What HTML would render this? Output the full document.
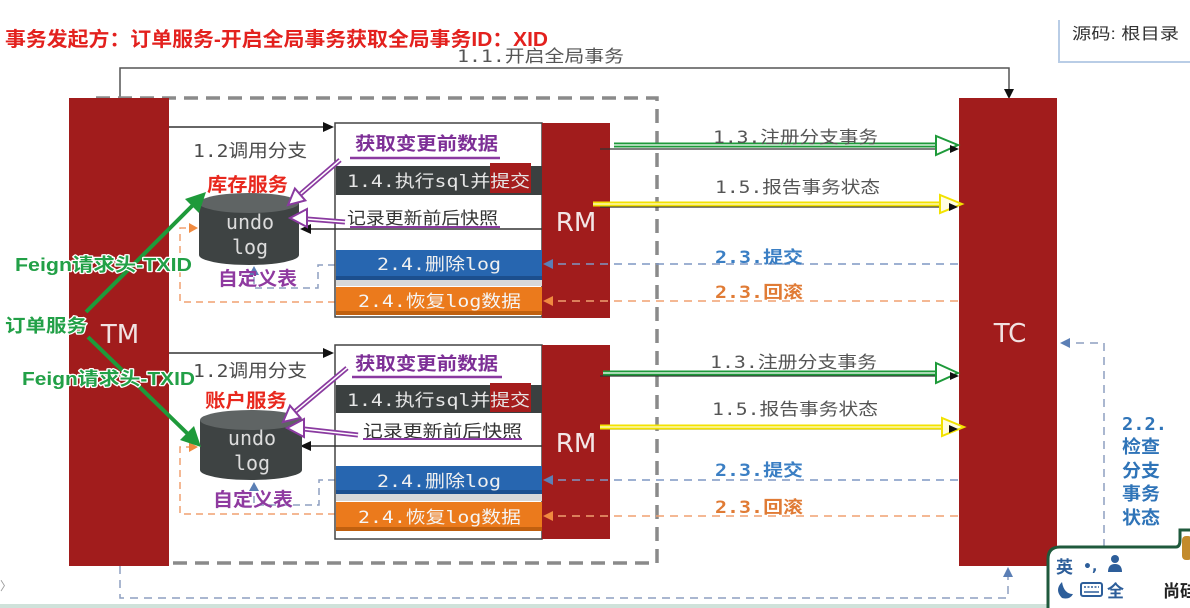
<!DOCTYPE html>
<html><head><meta charset="utf-8">
<style>
html,body{margin:0;padding:0;background:#fff;}
body{width:1190px;height:608px;overflow:hidden;}
svg{display:block;}
.cj{font-family:"Liberation Sans","Noto Sans CJK SC",sans-serif;}
.mo{font-family:"DejaVu Sans Mono","Noto Sans CJK SC",monospace;}
.b{font-weight:bold;}
</style></head>
<body>
<svg width="1190" height="608" viewBox="0 0 1190 608" xmlns="http://www.w3.org/2000/svg">
<rect width="1190" height="608" fill="#fff"/>

<!-- top right source box -->
<path d="M1059,20 L1059,62 L1190,62" fill="none" stroke="#b9cde6" stroke-width="2"/>
<text class="cj" x="1072" y="39" font-size="16" fill="#333" textLength="107" lengthAdjust="spacingAndGlyphs">源码: 根目录</text>

<!-- title -->
<text class="cj b" x="5" y="46" font-size="20" fill="#e3211e" textLength="543" lengthAdjust="spacingAndGlyphs">事务发起方：订单服务-开启全局事务获取全局事务ID：XID</text>

<!-- 1.1 line -->
<polyline points="120,98 120,68 1009,68 1009,90" fill="none" stroke="#555" stroke-width="1.5"/>
<polygon points="1009,99 1004,89 1014,89" fill="#111"/>
<text class="mo" x="457" y="62" font-size="17" fill="#555" textLength="167" lengthAdjust="spacingAndGlyphs">1.1.开启全局事务</text>

<!-- grey dashed box -->
<path d="M96,98 L657,98 L657,563 L170,563" fill="none" stroke="#8a8a8a" stroke-width="3.5" stroke-dasharray="14 8"/>

<!-- bottom dashed loop -->
<polyline points="120,566 120,598 1008,598 1008,575" fill="none" stroke="#8d9fc0" stroke-width="1.5" stroke-dasharray="8 6"/>
<polygon points="1008,567 1003,577 1013,577" fill="#5b7fb5"/>
<polyline points="1104,575 1104,343 1070,343" fill="none" stroke="#8d9fc0" stroke-width="1.5" stroke-dasharray="8 6"/>
<polygon points="1060,343 1070,338 1070,348" fill="#5b7fb5"/>

<!-- TM / TC -->
<rect x="69" y="98" width="100" height="468" fill="#a11c1c"/>
<rect x="959" y="98" width="98" height="468" fill="#a11c1c"/>
<text x="120" y="343" font-family="DejaVu Sans, sans-serif" font-size="26" fill="#f1e2e2" text-anchor="middle">TM</text>
<text x="1010" y="342" font-family="DejaVu Sans, sans-serif" font-size="26" fill="#f1e2e2" text-anchor="middle">TC</text>

<!-- ========== UPPER SECTION ========== -->
<line x1="169" y1="127" x2="325" y2="127" stroke="#333" stroke-width="1.5"/>
<polygon points="334,127 323,122 323,132" fill="#111"/>
<text class="mo" x="193" y="157" font-size="18" fill="#4a4a4a" textLength="114" lengthAdjust="spacingAndGlyphs">1.2调用分支</text>

<polyline points="335,302 180,302 180,228 190,228" fill="none" stroke="#f0a070" stroke-width="1.5" stroke-dasharray="7 5"/>
<polygon points="198,228 189,223 189,233" fill="#f08a40"/>
<polyline points="335,265 318,265 318,288 254,288 254,272" fill="none" stroke="#8d9fc0" stroke-width="1.5" stroke-dasharray="7 5"/>

<rect x="335" y="123" width="207" height="194" fill="#fff" stroke="#444" stroke-width="1.5"/>
<rect x="336" y="166" width="206" height="29" fill="#3b4040"/>
<rect x="490" y="163" width="41" height="30" fill="#a51d1d"/>
<rect x="336" y="250" width="206" height="30" fill="#2766b0"/>
<rect x="336" y="276" width="206" height="4" fill="#1c4f8e"/>
<rect x="336" y="280" width="206" height="6" fill="#d8d8d8"/>
<rect x="336" y="287" width="206" height="27" fill="#eb7a1c"/>
<rect x="336" y="311" width="206" height="4" fill="#c0600f"/>
<rect x="542" y="123" width="68" height="195" fill="#a11c1c"/>
<text x="576" y="231" font-family="DejaVu Sans, sans-serif" font-size="26" fill="#f3e6e6" text-anchor="middle">RM</text>

<text class="cj b" x="355" y="150" font-size="18" fill="#7d2f96" textLength="143" lengthAdjust="spacingAndGlyphs">获取变更前数据</text>
<line x1="350" y1="158" x2="500" y2="158" stroke="#8a3aa0" stroke-width="2.5"/>
<text class="mo" x="347" y="187" font-size="17" fill="#e6e6e6" textLength="183" lengthAdjust="spacingAndGlyphs">1.4.执行sql并提交</text>
<text class="cj" x="347" y="224" font-size="17" fill="#333" textLength="151" lengthAdjust="spacingAndGlyphs">记录更新前后快照</text>
<line x1="350" y1="227" x2="500" y2="227" stroke="#8a3aa0" stroke-width="2"/>
<line x1="542" y1="229" x2="310" y2="229" stroke="#333" stroke-width="1.5"/>
<polygon points="300,229 311,224 311,234" fill="#111"/>
<text class="mo" x="377" y="270" font-size="17" fill="#f0f0f0" textLength="124" lengthAdjust="spacingAndGlyphs">2.4.删除log</text>
<text class="mo" x="358" y="307" font-size="17" fill="#f5f5f5" textLength="163" lengthAdjust="spacingAndGlyphs">2.4.恢复log数据</text>

<path d="M199,203 L199,255 A50,10 0 0 0 299,255 L299,203 Z" fill="#3e4343"/>
<ellipse cx="249" cy="203" rx="50" ry="10" fill="#5f6464"/>
<text class="mo" x="250" y="229" font-size="20" fill="#dcdcdc" text-anchor="middle">undo</text>
<text class="mo" x="250" y="254" font-size="20" fill="#dcdcdc" text-anchor="middle">log</text>
<polygon points="254,266 249,275 259,275" fill="#5b7fb5"/>
<text class="cj b" x="207" y="191" font-size="19" fill="#e8281e" textLength="81" lengthAdjust="spacingAndGlyphs">库存服务</text>
<text class="cj b" x="218" y="285" font-size="19" fill="#8f3aa0" textLength="79" lengthAdjust="spacingAndGlyphs">自定义表</text>

<line x1="340" y1="160" x2="300" y2="194.5" stroke="#8a3aa0" stroke-width="5"/>
<line x1="340" y1="160" x2="300" y2="194.5" stroke="#fff" stroke-width="1.5"/>
<polygon points="288,205 305.3,200.5 294.9,188.5" fill="#fff" stroke="#8a3aa0" stroke-width="2"/>
<line x1="345" y1="222" x2="307" y2="219" stroke="#8a3aa0" stroke-width="5"/>
<line x1="345" y1="222" x2="307" y2="219" stroke="#fff" stroke-width="1.5"/>
<polygon points="290,218 307,209 307,227" fill="#fff" stroke="#8a3aa0" stroke-width="2"/>

<line x1="600" y1="149" x2="952" y2="149" stroke="#333" stroke-width="1.2"/>
<line x1="614" y1="145" x2="938" y2="145" stroke="#1e9a3a" stroke-width="5"/>
<line x1="614" y1="145" x2="938" y2="145" stroke="#fff" stroke-width="1.3"/>
<polygon points="958,145 936,136 936,155" fill="#fff" stroke="#1e9a3a" stroke-width="2"/>
<polygon points="959,149 950,145 950,153" fill="#111"/>
<text class="mo" x="713" y="143" font-size="17" fill="#555" textLength="165" lengthAdjust="spacingAndGlyphs">1.3.注册分支事务</text>

<line x1="600" y1="207" x2="955" y2="207" stroke="#333" stroke-width="1.2"/>
<line x1="593" y1="204" x2="942" y2="204" stroke="#f2e200" stroke-width="5"/>
<line x1="593" y1="204" x2="942" y2="204" stroke="#fffbd0" stroke-width="1.3"/>
<polygon points="962,204 940,195 940,213" fill="#fffde0" stroke="#f2e200" stroke-width="2"/>
<polygon points="958,207 949,203 949,211" fill="#111"/>
<text class="mo" x="715" y="193" font-size="17" fill="#555" textLength="165" lengthAdjust="spacingAndGlyphs">1.5.报告事务状态</text>

<line x1="958" y1="264" x2="552" y2="264" stroke="#7f97c4" stroke-width="1.5" stroke-dasharray="8 6"/>
<polygon points="543,264 553,259 553,269" fill="#5b7fb5"/>
<text class="mo b" x="715" y="263" font-size="17" fill="#3b7fc4" textLength="88" lengthAdjust="spacingAndGlyphs">2.3.提交</text>
<line x1="958" y1="301" x2="552" y2="301" stroke="#f0a070" stroke-width="1.5" stroke-dasharray="8 6"/>
<polygon points="543,301 553,296 553,306" fill="#f08a40"/>
<text class="mo b" x="715" y="298" font-size="17" fill="#e07b35" textLength="88" lengthAdjust="spacingAndGlyphs">2.3.回滚</text>

<!-- ========== LOWER SECTION ========== -->
<line x1="169" y1="353" x2="325" y2="353" stroke="#333" stroke-width="1.5"/>
<polygon points="334,353 323,348 323,358" fill="#111"/>
<text class="mo" x="193" y="377" font-size="18" fill="#4a4a4a" textLength="114" lengthAdjust="spacingAndGlyphs">1.2调用分支</text>

<polyline points="335,514 180,514 180,447 190,447" fill="none" stroke="#f0a070" stroke-width="1.5" stroke-dasharray="7 5"/>
<polygon points="198,447 189,442 189,452" fill="#f08a40"/>
<polyline points="335,480 319,480 319,505 254,505 254,490" fill="none" stroke="#8d9fc0" stroke-width="1.5" stroke-dasharray="7 5"/>
<polygon points="254,482 249,491 259,491" fill="#5b7fb5"/>

<rect x="335" y="345" width="207" height="194" fill="#fff" stroke="#444" stroke-width="1.5"/>
<rect x="336" y="385" width="206" height="28" fill="#3b4040"/>
<rect x="490" y="383" width="41" height="29" fill="#a51d1d"/>
<rect x="336" y="466" width="206" height="28" fill="#2766b0"/>
<rect x="336" y="490" width="206" height="4" fill="#1c4f8e"/>
<rect x="336" y="494" width="206" height="7" fill="#d8d8d8"/>
<rect x="336" y="502" width="206" height="28" fill="#eb7a1c"/>
<rect x="336" y="527" width="206" height="4" fill="#c0600f"/>
<rect x="542" y="345" width="68" height="194" fill="#a11c1c"/>
<text x="576" y="452" font-family="DejaVu Sans, sans-serif" font-size="26" fill="#f3e6e6" text-anchor="middle">RM</text>

<text class="cj b" x="355" y="370" font-size="18" fill="#7d2f96" textLength="143" lengthAdjust="spacingAndGlyphs">获取变更前数据</text>
<line x1="352" y1="377" x2="502" y2="377" stroke="#8a3aa0" stroke-width="2.5"/>
<text class="mo" x="347" y="406" font-size="17" fill="#e6e6e6" textLength="183" lengthAdjust="spacingAndGlyphs">1.4.执行sql并提交</text>
<text class="cj" x="363" y="437" font-size="17" fill="#333" textLength="159" lengthAdjust="spacingAndGlyphs">记录更新前后快照</text>
<line x1="363" y1="439" x2="522" y2="439" stroke="#8a3aa0" stroke-width="2"/>
<line x1="542" y1="446" x2="310" y2="446" stroke="#333" stroke-width="1.5"/>
<polygon points="300,446 311,441 311,451" fill="#111"/>
<text class="mo" x="377" y="487" font-size="17" fill="#f0f0f0" textLength="124" lengthAdjust="spacingAndGlyphs">2.4.删除log</text>
<text class="mo" x="358" y="523" font-size="17" fill="#f5f5f5" textLength="163" lengthAdjust="spacingAndGlyphs">2.4.恢复log数据</text>

<path d="M200,420 L200,470 A51,10 0 0 0 302,470 L302,420 Z" fill="#3e4343"/>
<ellipse cx="251" cy="420" rx="51" ry="10" fill="#5f6464"/>
<text class="mo" x="252" y="445" font-size="20" fill="#dcdcdc" text-anchor="middle">undo</text>
<text class="mo" x="252" y="470" font-size="20" fill="#dcdcdc" text-anchor="middle">log</text>
<text class="cj b" x="205" y="407" font-size="19" fill="#e8281e" textLength="82" lengthAdjust="spacingAndGlyphs">账户服务</text>
<text class="cj b" x="213" y="506" font-size="19" fill="#8f3aa0" textLength="80" lengthAdjust="spacingAndGlyphs">自定义表</text>

<line x1="347" y1="368" x2="295" y2="411.7" stroke="#8a3aa0" stroke-width="5"/>
<line x1="347" y1="368" x2="295" y2="411.7" stroke="#fff" stroke-width="1.5"/>
<polygon points="283,422 300.4,417.8 290,405.6" fill="#fff" stroke="#8a3aa0" stroke-width="2"/>
<line x1="358" y1="435" x2="304" y2="429" stroke="#8a3aa0" stroke-width="5"/>
<line x1="358" y1="435" x2="304" y2="429" stroke="#fff" stroke-width="1.5"/>
<polygon points="287,428 304,419 304,437" fill="#fff" stroke="#8a3aa0" stroke-width="2"/>

<line x1="600" y1="376" x2="952" y2="376" stroke="#333" stroke-width="1.2"/>
<line x1="603" y1="373" x2="938" y2="373" stroke="#1e9a3a" stroke-width="5"/>
<line x1="603" y1="373" x2="938" y2="373" stroke="#fff" stroke-width="1.3"/>
<polygon points="958,373 936,363 936,383" fill="#fff" stroke="#1e9a3a" stroke-width="2"/>
<polygon points="959,376 950,372 950,380" fill="#111"/>
<text class="mo" x="710" y="368" font-size="17" fill="#555" textLength="167" lengthAdjust="spacingAndGlyphs">1.3.注册分支事务</text>

<line x1="600" y1="429" x2="955" y2="429" stroke="#333" stroke-width="1.2"/>
<line x1="600" y1="427" x2="943" y2="427" stroke="#f2e200" stroke-width="5"/>
<line x1="600" y1="427" x2="943" y2="427" stroke="#fffbd0" stroke-width="1.3"/>
<polygon points="964,427 942,418 942,436" fill="#fffde0" stroke="#f2e200" stroke-width="2"/>
<polygon points="958,429 949,425 949,433" fill="#111"/>
<text class="mo" x="712" y="415" font-size="17" fill="#555" textLength="166" lengthAdjust="spacingAndGlyphs">1.5.报告事务状态</text>

<line x1="958" y1="480" x2="552" y2="480" stroke="#7f97c4" stroke-width="1.5" stroke-dasharray="8 6"/>
<polygon points="543,480 553,475 553,485" fill="#5b7fb5"/>
<text class="mo b" x="715" y="476" font-size="17" fill="#3b7fc4" textLength="88" lengthAdjust="spacingAndGlyphs">2.3.提交</text>
<line x1="958" y1="516" x2="552" y2="516" stroke="#f0a070" stroke-width="1.5" stroke-dasharray="8 6"/>
<polygon points="543,516 553,511 553,521" fill="#f08a40"/>
<text class="mo b" x="715" y="513" font-size="17" fill="#e07b35" textLength="88" lengthAdjust="spacingAndGlyphs">2.3.回滚</text>

<!-- green arrows from 订单服务 -->
<line x1="86" y1="312" x2="196" y2="202" stroke="#1e9a3a" stroke-width="4"/>
<polygon points="206,192 185,199 199,213" fill="#1e9a3a"/>
<line x1="88" y1="337" x2="191" y2="437" stroke="#1e9a3a" stroke-width="4"/>
<polygon points="201,447 194,426 180,440" fill="#1e9a3a"/>
<g class="cj b" font-size="18" fill="#22a047" stroke="#ffffff" stroke-width="2.5" paint-order="stroke" stroke-linejoin="round">
<text x="15" y="271" textLength="177" lengthAdjust="spacingAndGlyphs">Feign请求头-TXID</text>
<text x="5" y="332" textLength="82" lengthAdjust="spacingAndGlyphs">订单服务</text>
<text x="22" y="385" textLength="173" lengthAdjust="spacingAndGlyphs">Feign请求头-TXID</text>
</g>

<!-- 2.2 label -->
<g class="mo b" font-size="18" fill="#2f74b8">
<text x="1122" y="430" textLength="45" lengthAdjust="spacingAndGlyphs">2.2.</text>
<text x="1122" y="453" textLength="38" lengthAdjust="spacingAndGlyphs">检查</text>
<text x="1122" y="477" textLength="38" lengthAdjust="spacingAndGlyphs">分支</text>
<text x="1122" y="500" textLength="38" lengthAdjust="spacingAndGlyphs">事务</text>
<text x="1122" y="524" textLength="38" lengthAdjust="spacingAndGlyphs">状态</text>
</g>

<text x="0" y="590" font-family="DejaVu Sans, sans-serif" font-size="12" fill="#999">〉</text>

<rect x="0" y="604" width="1190" height="4" fill="#cfe2da"/>

<!-- IME widget -->
<path d="M1176,547 L1060,547 Q1048,547 1048,559 L1048,610 L1200,610" fill="#fff" stroke="#1f5a3c" stroke-width="3"/>
<path d="M1176,547 Q1180,547 1180,540 L1180,530 L1192,530" fill="none" stroke="#1f5a3c" stroke-width="3"/>
<rect x="1182" y="536" width="10" height="24" rx="4" fill="#c38b2c"/>
<text class="cj b" x="1056" y="573" font-size="17" fill="#2d5e9a">英</text>
<text x="1083" y="571" font-family="DejaVu Sans, sans-serif" font-size="14" fill="#2d5e9a" font-weight="bold">•,</text>
<circle cx="1115" cy="559" r="4" fill="#2d5e9a"/>
<path d="M1108,572 Q1108,564 1115,564 Q1122,564 1122,572 Z" fill="#2d5e9a"/>
<path d="M1062,582 Q1054,590 1062,598 Q1070,600 1073,594 Q1064,594 1062,582 Z" fill="#2d5e9a"/>
<rect x="1081" y="583" width="21" height="13" rx="2" fill="none" stroke="#2d5e9a" stroke-width="2"/>
<line x1="1084" y1="587" x2="1099" y2="587" stroke="#2d5e9a" stroke-width="1.5" stroke-dasharray="2 1.5"/>
<line x1="1084" y1="592" x2="1099" y2="592" stroke="#2d5e9a" stroke-width="1.5"/>
<text class="cj b" x="1107" y="597" font-size="17" fill="#2d5e9a">全</text>
<text class="cj b" x="1163" y="597" font-size="17" fill="#222">尚硅</text>
</svg>
</body></html>
